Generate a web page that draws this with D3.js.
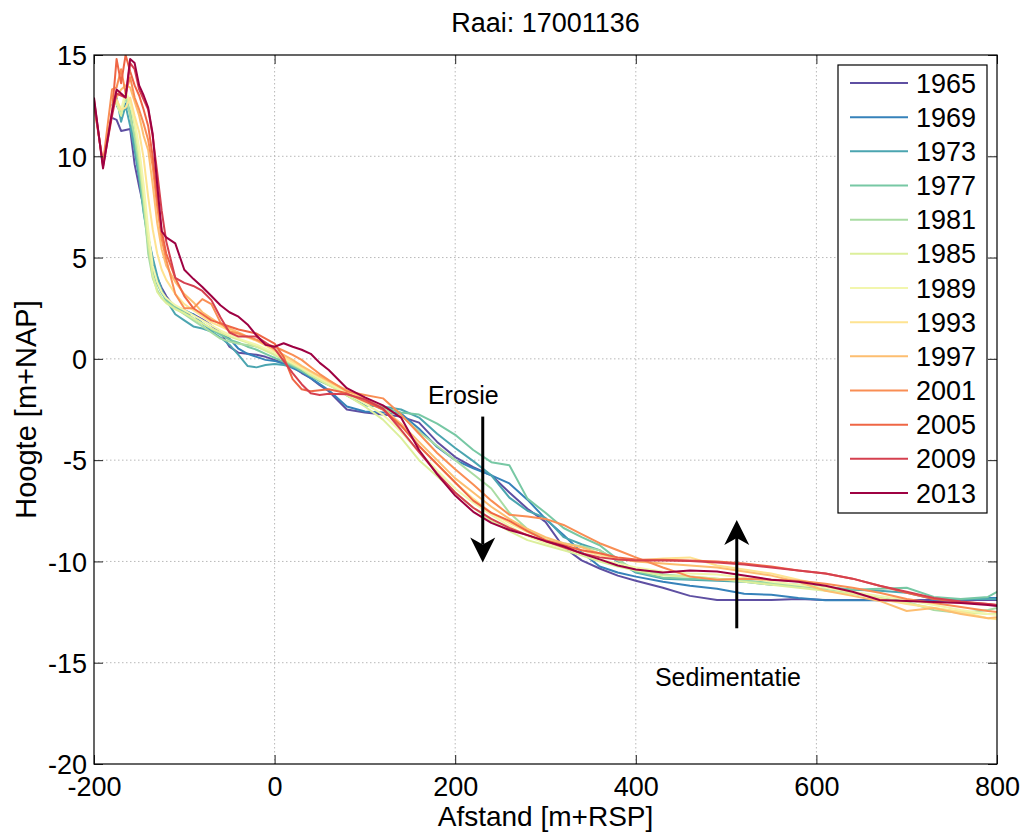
<!DOCTYPE html>
<html>
<head>
<meta charset="utf-8">
<script src="https://cdn.jsdelivr.net/npm/d3@7"></script>
<style>
  body { margin: 0; background: #fff; }
  text { font-family: "Liberation Sans", Arial, sans-serif; fill: #000; }
</style>
</head>
<body>
<svg id="chart"></svg>
<script>
// Distances along the transect [m+RSP]
const dist = [
  -200, -190, -180, -175, -170, -165, -160, -155, -150, -145, -140, -135, -130, -125, -120,
  -110, -100, -90, -80, -70, -60, -50, -40, -30, -20, -10, 0, 10, 20, 30, 40, 50, 60,
  80, 100, 120, 140, 160, 180, 200, 220, 240, 260, 280, 300, 320, 340, 360, 380, 400,
  430, 460, 490, 520, 550, 580, 610, 640, 670, 700, 730, 760, 790, 800
];

// Heights [m+NAP] per survey year
const h1965 = [
  null, null, 11.9, 11.8, 11.25, 11.3, 11.35, 9.6, 8.5, 7.5, 5.9, 4.7, 4.0, 3.5, 3.1,
  2.5, 2.25, 2.2, 1.95, 1.65, 1.3, 0.6, 0.3, 0.25, 0.2, 0.1, -0.05, -0.2, -0.4, -0.7, -0.95, -1.3, -1.6,
  -2.5, -2.65, -2.75, -2.85, -3.15, -4.1, -4.85, -5.35, -5.75, -6.6, -7.4, -8.05, -9.3, -9.95, -10.35, -10.7, -10.95,
  -11.3, -11.7, -11.9, -11.9, -11.9, -11.85, -11.9, -11.9, -11.9, -11.9, -11.9, -11.9, -11.9, -11.9
];
const h1969 = [
  null, null, null, 12.5, 12.2, 12.6, 12.2, 10.5, 9.0, 7.6, 6.0, 4.9, 3.9, 3.3, 3.0,
  2.6, 2.4, 2.2, 1.75, 1.4, 1.3, 1.0, 0.5, 0.25, 0.1, -0.05, -0.1, -0.25, -0.45, -0.65, -0.95, -1.25, -1.55,
  -2.35, -2.6, -2.65, -2.7, -3.45, -4.35, -5.0, -5.4, -5.75, -6.15, -6.95, -7.9, -8.7, -9.55, -10.25, -10.55, -10.75,
  -11.0, -11.2, -11.35, -11.6, -11.65, -11.8, -11.92, -11.92, -11.92, -11.95, -11.97, -11.9, -11.8, -11.8
];
const h1973 = [
  null, null, 12.5, 12.9, 11.7, 12.5, 11.5, 10.3, 8.9, 7.2, 6.0, 5.0, 4.1, 3.4, 2.9,
  2.2, 1.9, 1.6, 1.5, 1.35, 1.05, 0.7, 0.2, -0.35, -0.42, -0.3, -0.25, -0.3, -0.4, -0.5, -0.7, -0.95, -1.15,
  -1.8, -2.3, -2.35, -2.5, -2.9, -3.7, -4.4, -5.05, -5.75, -6.85, -7.5, -7.85, -8.8, -9.15, -9.45, -10.0, -10.55,
  -10.85, -10.9, -10.95, -11.0, -11.15, -11.2, -11.3, -11.4, -11.45, -11.55, -11.85, -11.87, -11.86, -11.86
];
const h1977 = [
  null, null, 12.7, 12.6, 12.2, 12.9, 12.2, 10.8, 9.2, 7.3, 5.6, 4.4, 3.7, 3.25, 2.9,
  2.6, 2.3, 2.0, 1.75, 1.45, 1.2, 0.95, 0.8, 0.6, 0.45, 0.25, 0.05, -0.15, -0.35, -0.6, -0.85, -1.1, -1.3,
  -1.7, -2.05, -2.4, -2.65, -2.75, -3.2, -3.75, -4.5, -5.1, -5.25, -6.9, -7.6, -8.35, -8.8, -9.2, -9.9, -10.5,
  -10.8, -10.85, -10.9, -10.95, -11.05, -11.15, -11.25, -11.4, -11.35, -11.3, -11.75, -11.85, -11.75, -11.5
];
const h1981 = [
  null, null, 12.8, 12.6, 12.1, 13.0, 12.0, 11.0, 9.6, 7.8, 5.2, 4.0, 3.4, 3.0, 2.8,
  2.5, 2.2, 1.9, 1.6, 1.3, 1.0, 0.85, 0.75, 0.68, 0.6, 0.45, 0.2, -0.05, -0.3, -0.5, -0.75, -1.0, -1.25,
  -1.7, -2.1, -2.5, -2.8, -3.6, -4.3, -5.0, -5.7, -6.4, -7.6, -8.4, -8.9, -9.1, -9.25, -9.45, -9.95, -10.4,
  -10.65, -10.75, -10.85, -10.95, -11.1, -11.2, -11.4, -11.6, -11.8, -12.0, -12.4, -12.55, -12.4, -12.3
];
const h1985 = [
  null, null, 12.9, 12.6, 12.0, 13.0, 12.6, 11.5, 10.0, 8.0, 5.8, 4.1, 3.3, 3.0, 2.75,
  2.45, 2.25, 2.0, 1.75, 1.5, 1.3, 1.1, 0.95, 0.8, 0.6, 0.4, 0.2, 0.0, -0.25, -0.5, -0.8, -1.05, -1.3,
  -1.8, -2.35, -3.0, -3.9, -5.0, -5.8, -6.6, -7.35, -8.0, -8.5, -8.95, -9.2, -9.45, -9.7, -10.0, -10.25, -10.45,
  -10.7, -10.75, -10.85, -11.0, -11.15, -11.3, -11.45, -11.6, -11.8, -12.05, -12.3, -12.5, -12.6, -12.6
];
const h1989 = [
  null, null, 13.0, 12.8, 12.3, 13.2, 12.7, 11.8, 10.4, 8.6, 6.4, 4.6, 3.8, 3.3, 3.0,
  2.65, 2.4, 2.15, 1.9, 1.65, 1.4, 1.2, 1.0, 0.85, 0.7, 0.5, 0.3, 0.05, -0.2, -0.45, -0.7, -0.95, -1.2,
  -1.7, -2.2, -2.75, -3.6, -4.6, -5.5, -6.4, -7.1, -7.7, -8.25, -8.75, -9.1, -9.35, -9.6, -9.9, -10.1, -10.3,
  -10.5, -10.6, -10.65, -10.8, -11.0, -11.15, -11.3, -11.5, -11.7, -11.9, -12.15, -12.4, -12.6, -12.65
];
const h1993 = [
  null, null, 13.1, 12.8, 12.3, 12.4, 12.9, 12.0, 11.2, 9.9, 8.0, 6.4, 5.2, 4.4, 3.9,
  3.2, 2.7, 2.4, 2.1, 1.8, 1.6, 1.4, 1.2, 1.05, 0.9, 0.65, 0.4, 0.1, -0.15, -0.4, -0.65, -0.9, -1.15,
  -1.6, -2.0, -2.5, -3.3, -4.3, -5.2, -6.1, -6.9, -7.6, -8.1, -8.55, -8.9, -9.2, -9.45, -9.7, -9.9, -9.95,
  -9.85, -9.8, -10.2, -10.4, -10.6, -10.9, -11.2, -11.55, -11.85, -12.1, -12.3, -12.5, -12.8, -12.85
];
const h1997 = [
  null, null, 13.0, 12.9, 13.3, 13.5, 13.4, 12.7, 12.0, 11.0, 10.3, 8.6, 6.7, 5.4, 4.6,
  3.8, 3.2, 2.8, 2.3, 2.0, 1.7, 1.5, 1.3, 1.1, 0.9, 0.7, 0.45, 0.2, -0.05, -0.35, -0.6, -0.85, -1.1,
  -1.55, -1.95, -2.45, -3.2, -4.1, -5.0, -5.9, -6.6, -7.3, -7.9, -8.4, -8.8, -9.1, -9.3, -9.6, -9.85, -10.0,
  -10.1, -10.2, -10.3, -10.5, -10.7, -11.0, -11.45, -11.7, -11.95, -12.45, -12.3, -12.6, -12.8, -12.75
];
const h2001 = [
  12.5, 9.7, 13.3, 13.4, 14.3, 13.1, 13.9, 12.9, 12.3, 11.6, 10.8, 9.5, 7.5, 5.9, 4.9,
  3.2, 2.5, 2.5, 2.95, 2.7, 1.8, 1.35, 1.25, 1.1, 0.95, 0.75, 0.6, 0.4, 0.2, -0.05, -0.4, -0.75, -1.05,
  -1.6, -1.78, -1.95, -2.75, -3.7, -4.65, -5.45, -6.2, -7.0, -7.7, -7.78, -7.9, -8.2, -8.65, -9.1, -9.45, -9.8,
  -10.3, -10.75, -10.9, -10.85, -10.9, -10.95, -11.1, -11.3, -11.55, -11.85, -12.05, -12.25, -12.45, -12.5
];
const h2005 = [
  12.6, 9.6, 12.2, 14.8, 13.6, 15.0, 14.2, 13.5, 13.0, 12.3, 11.5, 10.0, 8.0, 6.3, 5.2,
  4.0, 3.1, 2.5, 2.2, 1.9, 1.75, 1.6, 1.45, 1.35, 1.25, 1.0, 0.75, 0.1, -1.0, -1.5, -1.6, -1.55, -1.5,
  -1.7, -2.1, -2.5, -3.3, -4.3, -5.2, -6.1, -7.0, -7.6, -8.0, -8.5, -8.95, -9.2, -9.45, -9.6, -9.8, -9.9,
  -9.92, -9.95, -10.0, -10.1, -10.25, -10.45, -10.6, -10.85, -11.2, -11.55, -11.85, -12.0, -12.1, -12.15
];
const h2009 = [
  12.8, 9.5, 12.0, 13.1, 13.0, 12.9, 14.6, 14.3, 13.3, 12.8, 12.3, 11.0, 9.2, 7.3, 5.8,
  4.0, 3.75, 3.6, 3.35, 2.9, 2.05, 1.3, 1.1, 1.1, 1.1, 0.8, 0.5, -0.1, -0.7, -1.25, -1.7, -1.78, -1.72,
  -1.75, -2.0, -2.45, -3.5, -4.6, -5.65, -6.6, -7.35, -7.9, -8.35, -8.7, -9.0, -9.3, -9.6, -9.8, -9.9, -9.95,
  -9.95, -9.98, -10.05, -10.15, -10.3, -10.45, -10.6, -10.85, -11.2, -11.5, -11.8, -11.98, -12.1, -12.15
];
const h2013 = [
  12.9, 9.4, 12.2, 13.3, 13.1, 12.9, 14.8, 14.6, 13.5, 13.0, 12.4, 11.1, 8.6, 6.3, 6.0,
  5.7, 4.4, 3.95, 3.55, 3.1, 2.65, 2.3, 2.08, 1.7, 1.15, 0.69, 0.6, 0.77, 0.6, 0.45, 0.25, -0.2, -0.55,
  -1.45, -1.9, -2.3, -2.9, -4.5, -5.7, -6.75, -7.55, -8.1, -8.45, -8.7, -9.0, -9.25, -9.6, -9.9, -10.2, -10.4,
  -10.55, -10.45, -10.5, -10.7, -10.9, -11.0, -11.2, -11.5, -11.9, -11.95, -12.0, -12.05, -12.15, -12.2
];

const years = ["1965", "1969", "1973", "1977", "1981", "1985", "1989", "1993", "1997", "2001", "2005", "2009", "2013"];
const heights = [h1965, h1969, h1973, h1977, h1981, h1985, h1989, h1993, h1997, h2001, h2005, h2009, h2013];
const colors = ["#5e4fa2", "#3682ba", "#4ba5b0", "#77c8a4", "#a9dca3", "#dcef9b", "#f2f6ad",
                "#fee391", "#fdbe70", "#f98e54", "#ef6645", "#d5404f", "#9e0142"];

const xTicks = [-200, 0, 200, 400, 600, 800];
const yTicks = [-20, -15, -10, -5, 0, 5, 10, 15];

// Set dimensions and margins
const margin = { top: 55, right: 24, bottom: 68, left: 94 };
const W = 1021, H = 832;
const width = W - margin.left - margin.right;
const height = H - margin.top - margin.bottom;

const svg = d3.select("#chart").attr("width", W).attr("height", H);
const g = svg.append("g").attr("transform", `translate(${margin.left}, ${margin.top})`);

// Scales
const x = d3.scaleLinear().domain([-200, 800]).range([0, width]);
const y = d3.scaleLinear().domain([-20, 15]).range([height, 0]);

// Grid
g.append("g").selectAll("line").data(xTicks.slice(1, -1)).join("line")
  .attr("x1", d => x(d)).attr("x2", d => x(d)).attr("y1", 0).attr("y2", height)
  .attr("stroke", "#b8b8b8").attr("stroke-dasharray", "1.5,2.5");
g.append("g").selectAll("line").data(yTicks.slice(1, -1)).join("line")
  .attr("y1", d => y(d)).attr("y2", d => y(d)).attr("x1", 0).attr("x2", width)
  .attr("stroke", "#b8b8b8").attr("stroke-dasharray", "1.5,2.5");

// Lines
svg.append("defs").append("clipPath").attr("id", "plotclip")
  .append("rect").attr("width", width).attr("height", height);

const line = d3.line()
  .defined(d => d[1] !== null)
  .x(d => x(d[0]))
  .y(d => y(d[1]));

g.append("g").attr("clip-path", "url(#plotclip)")
  .selectAll("path")
  .data(heights.map((h, i) => ({ year: years[i], color: colors[i], pts: dist.map((d, j) => [d, h[j]]) })))
  .join("path")
  .attr("d", d => line(d.pts))
  .attr("fill", "none")
  .attr("stroke", d => d.color)
  .attr("stroke-width", 2)
  .attr("stroke-linejoin", "round");

// Axes (ticks inward, MATLAB style box)
const tickLen = 9;
const plain = d => String(d); // hyphen minus like the original
const xAxis = g.append("g").attr("transform", `translate(0, ${height})`)
  .call(d3.axisBottom(x).tickValues(xTicks).tickSize(-tickLen).tickPadding(13).tickFormat(plain));
const yAxis = g.append("g")
  .call(d3.axisLeft(y).tickValues(yTicks).tickSize(-tickLen).tickPadding(7).tickFormat(plain));
g.append("g").call(d3.axisTop(x).tickValues(xTicks).tickSize(-tickLen).tickFormat(""));
g.append("g").attr("transform", `translate(${width}, 0)`)
  .call(d3.axisRight(y).tickValues(yTicks).tickSize(-tickLen).tickFormat(""));

g.selectAll(".domain").remove();
g.selectAll(".tick line").attr("stroke", "#222");
g.selectAll(".tick text").style("font-size", "27px").style("font-family", "'Liberation Sans', Arial, sans-serif").attr("fill", "#000");
yAxis.selectAll(".tick text").attr("dy", "0.36em");

g.append("rect").attr("width", width).attr("height", height)
  .attr("fill", "none").attr("stroke", "#000").attr("stroke-width", 1.2);

// Titles
svg.append("text").attr("x", margin.left + width / 2).attr("y", 32)
  .attr("text-anchor", "middle").style("font-size", "27px").text("Raai: 17001136");
svg.append("text").attr("x", margin.left + width / 2).attr("y", 826)
  .attr("text-anchor", "middle").style("font-size", "28px").text("Afstand [m+RSP]");
svg.append("text").attr("transform", `translate(36, ${margin.top + height / 2}) rotate(-90)`)
  .attr("text-anchor", "middle").style("font-size", "29px").text("Hoogte [m+NAP]");

// Annotation arrows
function arrow(xv, yFrom, yTo) {
  const px = x(xv), p0 = y(yFrom), p1 = y(yTo);
  const dir = p1 > p0 ? 1 : -1;
  const headLen = 25, halfW = 12.5, notch = 7;
  g.append("line").attr("x1", px).attr("x2", px).attr("y1", p0).attr("y2", p1 - dir * (headLen - notch))
    .attr("stroke", "#000").attr("stroke-width", 3);
  g.append("path")
    .attr("d", `M${px},${p1} L${px - halfW},${p1 - dir * headLen} L${px},${p1 - dir * (headLen - notch)} L${px + halfW},${p1 - dir * headLen} Z`)
    .attr("fill", "#000");
}
arrow(230.5, -2.85, -10.05);
arrow(511.8, -13.3, -7.95);

g.append("text").attr("x", x(209)).attr("y", y(-2.22)).attr("text-anchor", "middle")
  .style("font-size", "25px").text("Erosie");
g.append("text").attr("x", x(502)).attr("y", y(-16.13)).attr("text-anchor", "middle")
  .style("font-size", "25px").text("Sedimentatie");

// Legend
const legX = 838 - margin.left, legY = 65 - margin.top;
const legend = g.append("g");
legend.append("rect").attr("x", legX).attr("y", legY).attr("width", 149).attr("height", 448)
  .attr("fill", "#fff").attr("stroke", "#000").attr("stroke-width", 1.2);
const rows = legend.selectAll("g.row").data(years).join("g").attr("class", "row")
  .attr("transform", (d, i) => `translate(${legX}, ${legY + 18 + i * 34.17})`);
rows.append("line").attr("x1", 12).attr("x2", 70).attr("y1", 0).attr("y2", 0)
  .attr("stroke", (d, i) => colors[i]).attr("stroke-width", 2);
rows.append("text").attr("x", 78).attr("y", 9.5).style("font-size", "27px").text(d => d);
</script>
</body>
</html>
